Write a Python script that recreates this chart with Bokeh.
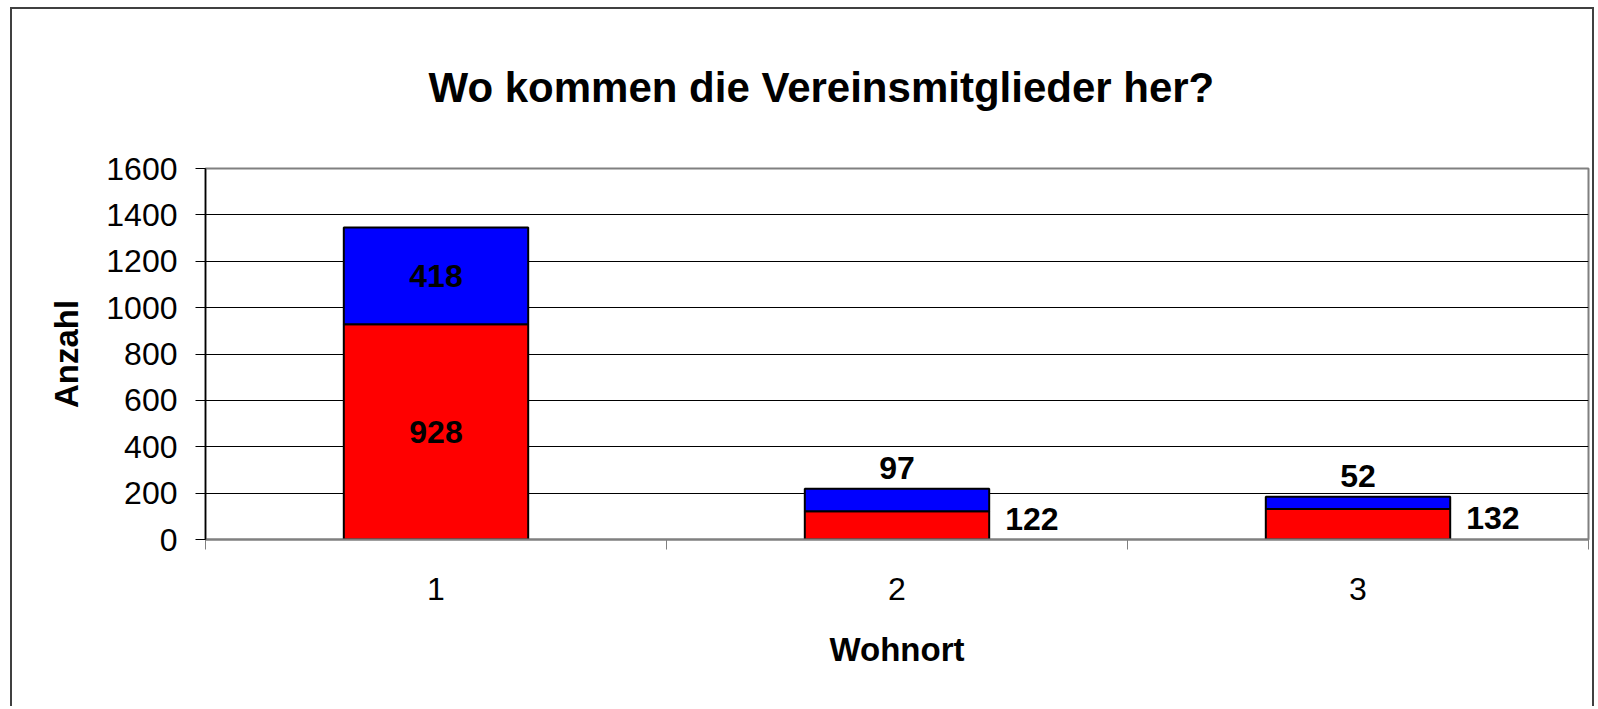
from bokeh.plotting import figure
from bokeh.models import Range1d, FixedTicker, ColumnDataSource
from bokeh.embed import file_html
from bokeh.resources import INLINE
from bokeh.core.properties import value

# ---- data ----
categories = ["1", "2", "3"]
red_values = [928, 122, 132]
blue_values = [418, 97, 52]
y_ticks = [0, 200, 400, 600, 800, 1000, 1200, 1400, 1600]
title_text = "Wo kommen die Vereinsmitglieder her?"
x_title = "Wohnort"
y_title = "Anzahl"

FONT = value("Liberation Sans")
bar_width = 0.4
xs = list(range(1, len(categories) + 1))
totals = [r + b for r, b in zip(red_values, blue_values)]

src = ColumnDataSource(dict(x=xs, red=red_values, blue=blue_values, total=totals))

border_css = ("linear-gradient(#404040,#404040) 10px 7px / 2px 900px no-repeat, "
              "linear-gradient(#404040,#404040) 10px 7px / 1584px 2px no-repeat, "
              "linear-gradient(#404040,#404040) 1592px 7px / 2px 900px no-repeat, white")

p = figure(width=1596, height=706, x_range=Range1d(0.5, len(categories) + 0.5),
           y_range=Range1d(y_ticks[0], y_ticks[-1]),
           output_backend="svg", toolbar_location=None,
           min_border_left=205, min_border_right=8, min_border_top=168, min_border_bottom=167,
           styles={"background": border_css})
p.background_fill_color = "white"
p.border_fill_color = None
p.outline_line_color = "#808080"
p.outline_line_width = 2

# title
p.title.text = title_text
p.title.text_font = "Liberation Sans"
p.title.text_font_size = "42px"
p.title.text_font_style = "bold"
p.title.text_color = "black"
p.title.align = "left"
p.title.offset = 223
p.title.standoff = 116

# bars
p.vbar(x="x", width=bar_width, bottom=0, top="red", source=src,
       fill_color="#FF0000", line_color="black", line_width=2)
p.vbar(x="x", width=bar_width, bottom="red", top="total", source=src,
       fill_color="#0000FF", line_color="black", line_width=2)

# data labels
threshold = 170
in_x, in_y, in_t = [], [], []
rs_x, rs_y, rs_t = [], [], []
ab_x, ab_y, ab_t = [], [], []
for xi, r, b in zip(xs, red_values, blue_values):
    if r >= threshold:
        in_x.append(xi); in_y.append(r / 2); in_t.append(str(r))
    else:
        rs_x.append(xi + bar_width / 2); rs_y.append(r / 2); rs_t.append(str(r))
    if b >= threshold:
        in_x.append(xi); in_y.append(r + b / 2); in_t.append(str(b))
    else:
        ab_x.append(xi); ab_y.append(r + b); ab_t.append(str(b))

lab = dict(text_font=FONT, text_font_size="32px", text_font_style="bold", text_color="black")
p.text(x=in_x, y=in_y, text=in_t, text_align="center", text_baseline="middle", **lab)
p.text(x=rs_x, y=rs_y, text=rs_t, text_align="left", text_baseline="middle",
       x_offset=16, y_offset=-6, **lab)
p.text(x=ab_x, y=ab_y, text=ab_t, text_align="center", text_baseline="middle",
       y_offset=-21, **lab)

# x axis
xa = p.xaxis[0]
xa.ticker = FixedTicker(ticks=xs, minor_ticks=[x - 0.5 for x in xs] + [xs[-1] + 0.5])
xa.major_label_overrides = {x: c for x, c in zip(xs, categories)}
xa.major_tick_out = 0
xa.major_tick_in = 0
xa.minor_tick_out = 10
xa.minor_tick_in = 0
xa.minor_tick_line_color = "#808080"
xa.axis_line_color = "#808080"
xa.axis_line_width = 2
xa.major_label_text_font = "Liberation Sans"
xa.major_label_text_font_size = "32px"
xa.major_label_text_color = "black"
xa.major_label_standoff = 28
xa.axis_label = x_title
xa.axis_label_text_font = "Liberation Sans"
xa.axis_label_text_font_size = "33px"
xa.axis_label_text_font_style = "bold"
xa.axis_label_text_color = "black"
xa.axis_label_standoff = 28

# y axis
ya = p.yaxis[0]
ya.ticker = FixedTicker(ticks=y_ticks)
ya.major_tick_out = 10
ya.major_tick_in = 0
ya.major_tick_line_color = "black"
ya.minor_tick_line_color = None
ya.axis_line_color = "black"
ya.axis_line_width = 1.5
ya.major_label_text_font = "Liberation Sans"
ya.major_label_text_font_size = "32px"
ya.major_label_text_color = "black"
ya.major_label_standoff = 18
ya.axis_label = y_title
ya.axis_label_text_font = "Liberation Sans"
ya.axis_label_text_font_size = "33px"
ya.axis_label_text_font_style = "bold"
ya.axis_label_text_color = "black"
ya.axis_label_standoff = 18

p.xgrid.visible = False
p.ygrid.ticker = FixedTicker(ticks=y_ticks)
p.ygrid.grid_line_color = "black"
p.ygrid.grid_line_width = 1

open("out.html", "w").write(file_html(p, INLINE))
